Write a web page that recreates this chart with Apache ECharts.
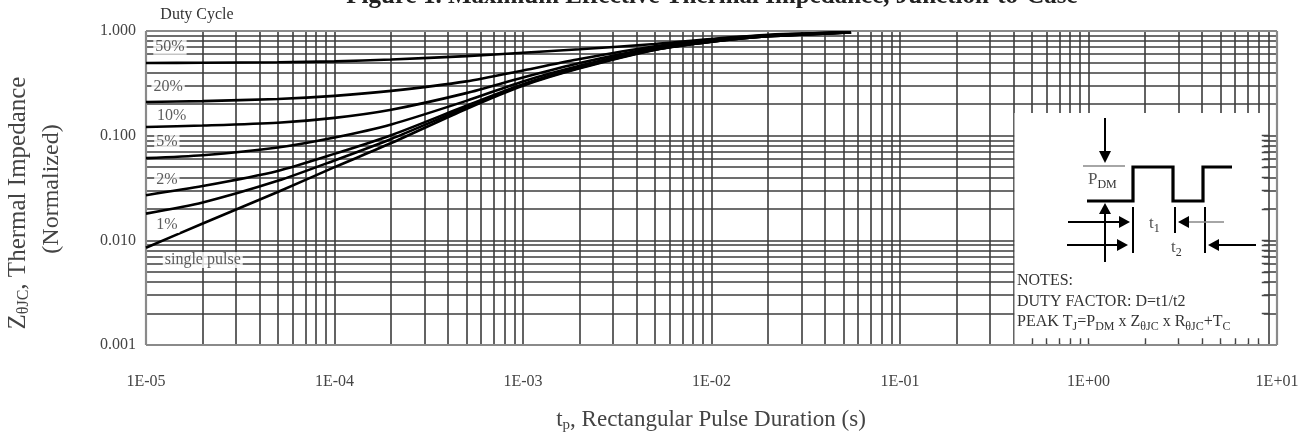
<!DOCTYPE html>
<html><head><meta charset="utf-8">
<script src="https://cdn.jsdelivr.net/npm/echarts@6/dist/echarts.min.js"></script>
<style>html,body{margin:0;padding:0;background:#fff}#c{width:1307px;height:441px}</style>
</head><body><div id="c"></div>
<script>
// ---------- data ----------
const seriesNames = ['single pulse', '1%', '2%', '5%', '10%', '20%', '50%'];
const tValues = [1e-5, 2e-5, 5e-5, 1e-4, 2e-4, 5e-4, 1e-3, 2e-3, 5e-3, 1e-2, 2e-2, 5.5e-2];
const zSingle = [0.0085, 0.0145, 0.029, 0.050, 0.085, 0.18, 0.30, 0.44, 0.66, 0.79, 0.89, 0.97];
const z1  = [0.018, 0.023, 0.037, 0.058, 0.093, 0.186, 0.305, 0.445, 0.662, 0.79, 0.89, 0.97];
const z2  = [0.027, 0.033, 0.046, 0.067, 0.101, 0.193, 0.31, 0.45, 0.665, 0.792, 0.89, 0.97];
const z5  = [0.061, 0.065, 0.077, 0.096, 0.128, 0.215, 0.33, 0.465, 0.675, 0.80, 0.895, 0.97];
const z10 = [0.121, 0.125, 0.133, 0.148, 0.177, 0.255, 0.36, 0.495, 0.69, 0.81, 0.90, 0.97];
const z20 = [0.21, 0.214, 0.224, 0.24, 0.268, 0.33, 0.42, 0.54, 0.715, 0.83, 0.91, 0.97];
const z50 = [0.494, 0.497, 0.503, 0.513, 0.535, 0.575, 0.62, 0.67, 0.75, 0.84, 0.92, 0.97];
const seriesValues = [zSingle, z1, z2, z5, z10, z20, z50];

// curve label positions (t, Z)
const labelTexts = ['50%', '20%', '10%', '5%', '2%', '1%', 'single pulse'];
const labelT = [1.34e-5, 1.31e-5, 1.37e-5, 1.29e-5, 1.29e-5, 1.29e-5, 2.0e-5];
const labelZ = [0.708, 0.294, 0.154, 0.0877, 0.0378, 0.0140, 0.0065];

const xTickLabels = ['1E-05', '1E-04', '1E-03', '1E-02', '1E-01', '1E+00', '1E+01'];
const yTickLabels = ['0.001', '0.010', '0.100', '1.000'];

const xDecades = [-5, -4, -3, -2, -1, 0];
const yDecades = [-3, -2, -1];
const gridMult = [1, 2, 3, 4, 5, 6, 7, 8, 9];

// inset (white box) extents in data units
const insetT = [0.405, 8.5];
const insetZ = [0.00103, 0.165];

// ---------- build ----------
const SERIF = '"Liberation Serif","DejaVu Serif",serif';
const gridColor = '#3c3c3c';
const X0 = 1e-5, X1 = 10, Y0 = 0.001, Y1 = 1;

const xGridVals = [], yGridVals = [];
xDecades.forEach(e => gridMult.forEach(k => { const v = k * Math.pow(10, e); if (k > 1 || e > -5) xGridVals.push(v); }));
yDecades.forEach(e => gridMult.forEach(k => { const v = k * Math.pow(10, e); if (k > 1 || e > -3) yGridVals.push(v); }));

const gridSegs = [];
xGridVals.forEach(v => gridSegs.push({ coords: [[v, Y0], [v, Y1]] }));
yGridVals.forEach(v => gridSegs.push({ coords: [[X0, v], [X1, v]] }));

// short ticks inside the inset
const insetTicks = [];
xGridVals.filter(v => v > 0.45 && v < 8.5).forEach(v => insetTicks.push({ coords: [[v, Y0], [v, 0.00116]] }));
yGridVals.filter(v => v < 0.16).forEach(v => insetTicks.push({ coords: [[8.3, v], [9, v]] }));

const frameSegs = [
  { coords: [[X0, Y0], [X0, Y1]] }, { coords: [[X1, Y0], [X1, Y1]] },
  { coords: [[X0, Y0], [X1, Y0]] }, { coords: [[X0, Y1], [X1, Y1]] }
];

const curveSeries = seriesNames.map((name, i) => ({
  name: name,
  type: 'line',
  z: 6,
  data: tValues.map((t, j) => [t, seriesValues[i][j]]),
  showSymbol: false,
  symbol: 'none',
  smooth: 0.25,
  lineStyle: { color: '#000', width: 2.6 },
  silent: true
}));

const option = {
  animation: false,
  backgroundColor: '#fff',
  grid: { left: 146, right: 30, top: 31, bottom: 96, show: false },
  xAxis: {
    type: 'log', logBase: 10, min: X0, max: X1, splitNumber: 6,
    axisLine: { show: false }, axisTick: { show: false }, splitLine: { show: false },
    axisLabel: {
      margin: 29, color: '#444', fontFamily: SERIF, fontSize: 16,
      formatter: v => xTickLabels[Math.round(Math.log10(v)) + 5] || ''
    }
  },
  yAxis: {
    type: 'log', logBase: 10, min: Y0, max: Y1, splitNumber: 3,
    axisLine: { show: false }, axisTick: { show: false }, splitLine: { show: false },
    axisLabel: {
      margin: 10, color: '#444', fontFamily: SERIF, fontSize: 16,
      formatter: v => yTickLabels[Math.round(Math.log10(v)) + 3] || ''
    }
  },
  series: [
    {
      name: 'grid', type: 'lines', coordinateSystem: 'cartesian2d', z: 1, silent: true,
      lineStyle: { color: gridColor, width: 1.6, opacity: 1 },
      data: gridSegs
    },
    {
      name: 'inset', type: 'line', z: 3, data: [], silent: true,
      markArea: {
        z: 3, silent: true, itemStyle: { color: '#fff', opacity: 1 }, label: { show: false },
        data: [[{ coord: [insetT[0], insetZ[0]] }, { coord: [insetT[1], insetZ[1]] }]]
      }
    },
    {
      name: 'insetTicks', type: 'lines', coordinateSystem: 'cartesian2d', z: 4, silent: true,
      lineStyle: { color: '#444', width: 1.4, opacity: 1 },
      data: insetTicks
    },
    {
      name: 'frame', type: 'lines', coordinateSystem: 'cartesian2d', z: 5, silent: true,
      lineStyle: { color: '#8a8a8a', width: 2.2, opacity: 1 },
      data: frameSegs
    },
    ...curveSeries,
    {
      name: 'labels', type: 'scatter', z: 7, symbolSize: 0, silent: true,
      data: labelTexts.map((s, i) => [labelT[i], labelZ[i], s]),
      label: {
        show: true, position: 'inside', formatter: p => p.data[2],
        fontFamily: SERIF, fontSize: 16, color: '#333',
        backgroundColor: '#fff', padding: [0, 2, 0, 2]
      }
    }
  ],
  graphic: []
};

const sub = { fontFamily: SERIF, fontSize: 12, padding: [9, 0, 0, 0], fill: '#333' };
const txt = (x, y, text, opts) => Object.assign({
  type: 'text', x: x, y: y, z: 10,
  style: Object.assign({ text: text, fontFamily: SERIF, fontSize: 16, fill: '#333', align: 'left', verticalAlign: 'middle', rich: { s: sub } }, opts || {})
});
const line = (x1, y1, x2, y2, w, c) => ({ type: 'line', z: 10, shape: { x1, y1, x2, y2 }, style: { stroke: c || '#000', lineWidth: w || 2 } });
const tri = (pts) => ({ type: 'polygon', z: 10, shape: { points: pts }, style: { fill: '#000' } });

option.graphic = [
  // title (clipped at the top)
  txt(712, 9, 'Figure 1. Maximum Effective Thermal Impedance, Junction-to-Case',
      { align: 'center', verticalAlign: 'bottom', fontSize: 25, fontWeight: 'bold', fill: '#222' }),
  txt(197, 15, 'Duty Cycle', { align: 'center', fontSize: 16 }),
  // axis titles
  {
    type: 'text', x: 18, y: 203, rotation: Math.PI / 2, z: 10,
    style: { text: 'Z{ys|θJC}, Thermal Impedance', fontFamily: SERIF, fontSize: 25, fill: '#444', align: 'center', verticalAlign: 'middle',
      rich: { ys: { fontFamily: SERIF, fontSize: 16, padding: [11, 0, 0, 0], fill: '#444' } } }
  },
  {
    type: 'text', x: 52, y: 189, rotation: Math.PI / 2, z: 10,
    style: { text: '(Normalized)', fontFamily: SERIF, fontSize: 24, fill: '#444', align: 'center', verticalAlign: 'middle' }
  },
  {
    type: 'text', x: 711, y: 420, z: 10,
    style: { text: 't{xs|p}, Rectangular Pulse Duration (s)', fontFamily: SERIF, fontSize: 23, fill: '#444', align: 'center', verticalAlign: 'middle',
      rich: { xs: { fontFamily: SERIF, fontSize: 15, padding: [10, 0, 0, 0], fill: '#444' } } }
  },
  // inset schematic
  line(1105, 118, 1105, 154, 2),
  tri([[1099, 151], [1111, 151], [1105, 163]]),
  line(1083, 166, 1125, 166, 1.5, '#888'),
  txt(1088, 180, 'P{s|DM}', { fontSize: 17, fill: '#555' }),
  { type: 'polyline', z: 10, shape: { points: [[1087, 201], [1133, 201], [1133, 167], [1173, 167], [1173, 201], [1203, 201], [1203, 167], [1232, 167]] },
    style: { stroke: '#000', lineWidth: 3.2, fill: null } },
  line(1105, 262, 1105, 212, 2),
  tri([[1099, 214], [1111, 214], [1105, 203]]),
  line(1133, 207, 1133, 253, 2),
  line(1175, 207, 1175, 233, 2),
  line(1205, 207, 1205, 253, 2),
  line(1068, 222, 1122, 222, 2),
  tri([[1119, 216], [1119, 228], [1130, 222]]),
  line(1186, 222, 1224, 222, 1.5, '#888'),
  tri([[1189, 216], [1189, 228], [1178, 222]]),
  line(1067, 245, 1120, 245, 2),
  tri([[1117, 239], [1117, 251], [1128, 245]]),
  line(1216, 245, 1256, 245, 2),
  tri([[1219, 239], [1219, 251], [1208, 245]]),
  txt(1149, 224, 't{s|1}', { fontSize: 17, fill: '#555' }),
  txt(1171, 248, 't{s|2}', { fontSize: 17, fill: '#555' }),
  txt(1017, 281, 'NOTES:', { fontSize: 16 }),
  txt(1017, 302, 'DUTY FACTOR: D=t1/t2', { fontSize: 16 }),
  txt(1017, 322, 'PEAK T{s|J}=P{s|DM} x Z{s|θJC} x R{s|θJC}+T{s|C}', { fontSize: 16 })
];

const chart = echarts.init(document.getElementById('c'), null, { renderer: 'canvas' });
chart.setOption(option);
</script>
</body></html>
